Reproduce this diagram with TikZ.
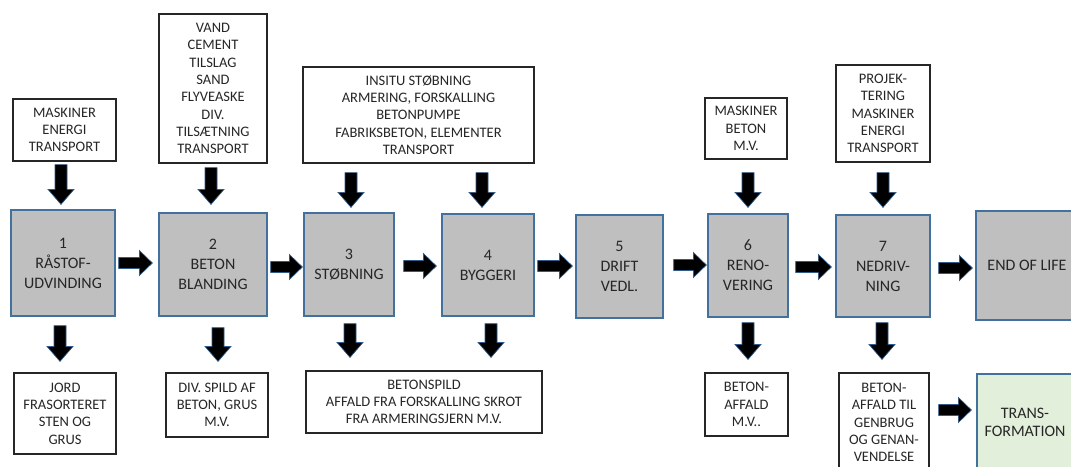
\documentclass[tikz,border=0pt]{standalone}
\usepackage{fontspec}
\setmainfont{Carlito}
\usetikzlibrary{calc}

\definecolor{boxgray}{HTML}{BFBFBF}
\definecolor{boxblue}{HTML}{41719C}
\definecolor{txt}{HTML}{262626}
\definecolor{transgreen}{HTML}{E2EFDA}
\definecolor{arrowedge}{HTML}{2F5C8A}

\tikzset{
  stage/.style={draw=boxblue, fill=boxgray, line width=1.3pt, align=center,
    inner sep=0pt, text=txt, font=\fontsize{16}{20}\selectfont},
  finalstage/.style={stage, fill=transgreen, font=\fontsize{16}{18}\selectfont},
  note/.style={draw=black!85, fill=white, line width=1.2pt, align=center,
    inner sep=0pt, text=txt, font=\fontsize{14.5}{17.3}\selectfont},
  blockarr/.style={fill=black, draw=arrowedge, line width=0.7pt, line join=miter},
  % block arrow pointing down, drawn at the x of its start point
  downarr/.style={blockarr, to path={let \p1=(\tikztostart), \p2=(\tikztotarget) in
    ({\x1-6pt},\y1) -- ({\x1-6pt},{\y2+15pt}) -- ({\x1-13pt},{\y2+15pt}) -- (\x1,\y2)
    -- ({\x1+13pt},{\y2+15pt}) -- ({\x1+6pt},{\y2+15pt}) -- ({\x1+6pt},\y1) -- cycle}},
  % block arrow pointing right, drawn at the y of its start point
  rightarr/.style={blockarr, to path={let \p1=(\tikztostart), \p2=(\tikztotarget) in
    (\x1,{\y1+5.5pt}) -- ({\x2-13pt},{\y1+5.5pt}) -- ({\x2-13pt},{\y1+12.5pt}) -- (\x2,\y1)
    -- ({\x2-13pt},{\y1-12.5pt}) -- ({\x2-13pt},{\y1-5.5pt}) -- (\x1,{\y1-5.5pt}) -- cycle}},
}

\begin{document}
\begin{tikzpicture}[x=1pt, y=-1pt]
\useasboundingbox (0,0) rectangle (1071,466);
\clip (0,0) rectangle (1071,466);
\fill[white] (0,0) rectangle (1071,466);

% life-cycle stages
\node[stage, minimum width=104pt, minimum height=106pt] (m1) at (63,263) {1\\RÅSTOF-\\UDVINDING};
\node[stage, minimum width=108pt, minimum height=103pt] (m2) at (213,264.5) {2\\BETON\\BLANDING};
\node[stage, minimum width=90pt, minimum height=103pt] (m3) at (349,264.5) {3\\STØBNING};
\node[stage, minimum width=92pt, minimum height=102pt] (m4) at (488,265) {4\\BYGGERI};
\node[stage, minimum width=87pt, minimum height=103pt] (m5) at (619.5,266.5) {5\\DRIFT\\VEDL.};
\node[stage, minimum width=80pt, minimum height=103pt] (m6) at (748,265.5) {6\\RENO-\\VERING};
\node[stage, minimum width=94pt, minimum height=102pt] (m7) at (883,266) {7\\NEDRIV-\\NING};
\node[stage, minimum width=102pt, minimum height=109pt] (mE) at (1027,265.5) {END OF LIFE};
\node[finalstage, minimum width=96pt, minimum height=96pt] (tr) at (1025,422) {TRANS-\\FORMATION};

% inputs
\node[note, minimum width=103pt, minimum height=62pt] (t1) at (64.5,130) {MASKINER\\ENERGI\\TRANSPORT};
\node[note, minimum width=108pt, minimum height=149pt] (t2) at (213,88.5) {VAND\\CEMENT\\TILSLAG\\SAND\\FLYVEASKE\\DIV.\\TILSÆTNING\\TRANSPORT};
\node[note, minimum width=231pt, minimum height=96pt] (t3) at (418.5,115) {INSITU STØBNING\\ARMERING, FORSKALLING\\BETONPUMPE\\FABRIKSBETON, ELEMENTER\\TRANSPORT};
\node[note, minimum width=82pt, minimum height=61pt] (t6) at (746,128.5) {MASKINER\\BETON\\M.V.};
\node[note, minimum width=94pt, minimum height=97pt] (t7) at (883,113.5) {PROJEK-\\TERING\\MASKINER\\ENERGI\\TRANSPORT};

% outputs
\node[note, minimum width=102pt, minimum height=81pt] (b1) at (65,413.5) {JORD\\FRASORTERET\\STEN OG\\GRUS};
\node[note, minimum width=102pt, minimum height=64pt] (b2) at (217,405) {DIV. SPILD AF\\BETON, GRUS\\M.V.};
\node[note, minimum width=236pt, minimum height=62pt] (b3) at (424,402) {BETONSPILD\\AFFALD FRA FORSKALLING SKROT\\FRA ARMERINGSJERN M.V.};
\node[note, minimum width=83pt, minimum height=63pt] (b6) at (746.5,404.5) {BETON-\\AFFALD\\M.V..};
\node[note, minimum width=90pt, minimum height=99pt] (b7) at (884,422.5) {BETON-\\AFFALD TIL\\GENBRUG\\OG GENAN-\\VENDELSE};

% inputs into the stages
\draw[downarr] ($(t1.south)+(-3.5,3)$) to ($(m1.north)+(0,-5)$);
\draw[downarr] ($(t2.south)+(-2,4)$) to ($(m2.north)+(0,-8)$);
\draw[downarr] ($(t3.south -| m3.north)+(2,9)$) to ($(m3.north)+(0,-5)$);
\draw[downarr] ($(t3.south -| m4.north)+(-6,9)$) to ($(m4.north)+(0,-6)$);
\draw[downarr] ($(t6.south)+(2,13)$) to ($(m6.north)+(0,-6)$);
\draw[downarr] ($(t7.south)+(0,10)$) to ($(m7.north)+(0,-7)$);

% outputs from the stages
\draw[downarr] ($(m1.south)+(-3,9)$) to ($(b1.north)+(0,-11)$);
\draw[downarr] ($(m2.south)+(5,11)$) to ($(b2.north)+(0,-11)$);
\draw[downarr] ($(m3.south)+(1,7)$) to ($(b3.north)+(0,-13)$);
\draw[downarr] ($(m4.south)+(3,7)$) to ($(b3.north)+(0,-13)$);
\draw[downarr] ($(m6.south)+(0,5)$) to ($(b6.north)+(0,-13)$);
\draw[downarr] ($(m7.south)+(-1,5)$) to ($(b7.north)+(0,-13)$);

% flow between the stages
\draw[rightarr] ($(m1.east)+(3,0)$) to ($(m2.west)+(-6,0)$);
\draw[rightarr] ($(m2.east)+(3,2.5)$) to ($(m3.west)+(-1,0)$);
\draw[rightarr] ($(m3.east)+(9,1.5)$) to ($(m4.west)+(-5,0)$);
\draw[rightarr] ($(m4.east)+(3,1)$) to ($(m5.west)+(-3,0)$);
\draw[rightarr] ($(m5.east)+(10,-1.5)$) to ($(m6.west)+(-1,0)$);
\draw[rightarr] ($(m6.east)+(7,1.5)$) to ($(m7.west)+(-4,0)$);
\draw[rightarr] ($(m7.east)+(8,2)$) to ($(mE.west)+(-3,0)$);
\draw[rightarr] ($(b7.east)+(9,-12.5)$) to ($(tr.west)+(-5,0)$);
\end{tikzpicture}
\end{document}
